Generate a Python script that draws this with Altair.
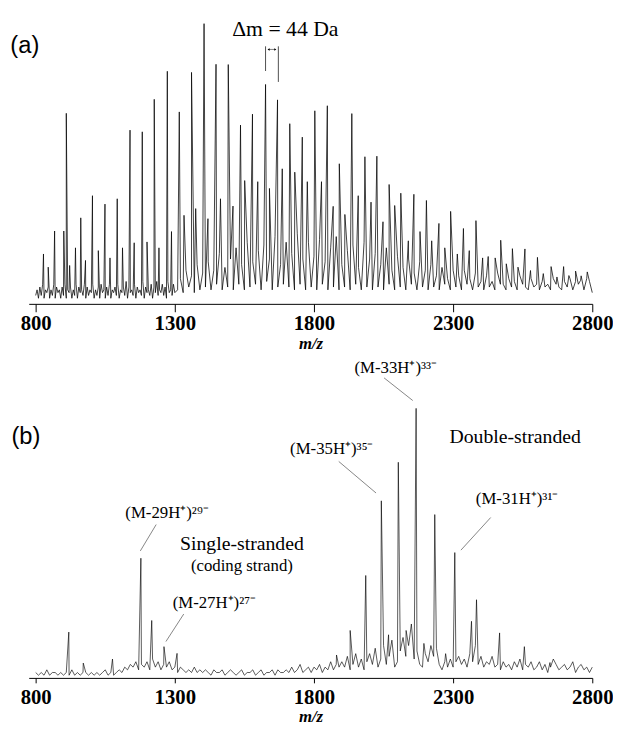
import altair as alt
import pandas as pd

# ---------------- Panel (a) ----------------
a_main_mz = [828, 868, 910, 943, 962, 1004, 1049, 1093, 1139, 1183, 1226, 1273, 1316, 1360, 1405,
             1448, 1492, 1536, 1579, 1626, 1669, 1713, 1758, 1803, 1848, 1891, 1936, 1983, 2026, 2070,
             2112, 2159, 2204, 2249, 2291, 2337, 2382, 2426, 2471, 2513, 2558, 2603, 2652, 2697, 2740, 2782]
a_main_h = [17.8, 26, 68, 20, 30.7, 38.6, 35.6, 37.5, 62, 61.4, 73, 83, 68.5, 82.6, 100,
            85.5, 85.4, 63.8, 67.7, 78.3, 72.8, 64.3, 59.5, 68.9, 70.7, 50, 67.9, 52.5, 52.7, 42.6,
            39.5, 39.1, 36.9, 28.7, 33, 26.9, 29.7, 16.9, 22.7, 19.7, 19.6, 16.6, 13.3, 13.3, 11.7, 11.4]

a_sec_mz = [845, 901, 922, 979, 1025, 1067, 1112, 1154, 1200, 1243, 1288, 1333, 1375, 1419, 1464,
            1509, 1551, 1598, 1640, 1686, 1731, 1776, 1827, 1869, 1911, 1959, 2005, 2048, 2090, 2139,
            2181, 2223, 2270, 2315, 2358, 2406, 2451, 2491, 2533, 2578, 2624, 2673, 2716, 2758]
a_sec_h = [13.1, 26, 13.7, 15.5, 19, 16.4, 20, 21.8, 22.1, 20, 25.8, 31.6, 34, 30.4, 37.5,
           34.9, 44, 43.6, 41.2, 48.2, 47, 43.6, 43.6, 34.8, 31.9, 38.6, 36.3, 29.3, 35.1, 22.5,
           25.8, 22.5, 20, 17.8, 19, 16.4, 16.4, 14.3, 13.1, 11.9, 10.8, 9.6, 10.1, 8.4]

# baseline 800..1300 every 5 m/z
a_noise_lo = [3, 5, 2, 6, 3, 7, 2, 5, 4, 6,
              2, 5, 3, 7, 2, 6, 4, 5, 2, 6,
              3, 7, 2, 5, 4, 6, 2, 5, 3, 7,
              2, 6, 4, 5, 3, 7, 2, 6, 3, 5,
              4, 7, 2, 5, 3, 6, 2, 7, 4, 5,
              2, 6, 3, 7, 2, 5, 4, 6, 3, 7,
              2, 5, 4, 6, 3, 8, 2, 6, 4, 5,
              3, 7, 2, 6, 4, 5, 3, 8, 2, 6,
              4, 5, 3, 7, 2, 6, 4, 8, 3, 5,
              4, 7, 3, 6, 2, 8, 4, 5, 3, 7,
              4]
# baseline 1310..2800 every 10 m/z
a_noise_hi = [5, 9, 4, 12, 6, 10, 4, 14, 5, 11,
              6, 15, 5, 12, 7, 18, 5, 13, 6, 16,
              5, 20, 7, 14, 5, 22, 6, 15, 7, 19,
              5, 21, 8, 16, 5, 24, 6, 14, 7, 22,
              6, 18, 5, 25, 7, 16, 5, 22, 6, 17,
              5, 23, 7, 15, 5, 20, 6, 24, 5, 14,
              6, 19, 5, 21, 7, 13, 5, 22, 6, 16,
              5, 18, 6, 14, 5, 20, 7, 12, 5, 17,
              6, 13, 5, 16, 7, 11, 5, 15, 6, 12,
              5, 14, 6, 10, 5, 13, 7, 9, 5, 12,
              6, 10, 5, 12, 7, 9, 5, 11, 6, 8,
              5, 10, 6, 8, 5, 11, 7, 7, 5, 9,
              6, 8, 5, 10, 7, 6, 5, 9, 6, 7,
              5, 8, 6, 7, 5, 9, 7, 6, 5, 8,
              6, 9, 5, 8, 7, 10, 5, 9, 8, 4]

# ---------------- Panel (b) ----------------
b_peak_mz = [919, 971, 1076, 1178, 1217, 1261, 1308, 1881, 1930, 1986, 2042, 2068, 2103, 2131, 2167,
             2195, 2234, 2273, 2306, 2366, 2384, 2467, 2556, 2648]
b_peak_h = [17, 5.5, 7, 44.4, 21.3, 11.6, 9.1, 8.5, 17.6, 38, 65.7, 16, 80, 17.6, 100,
            12.8, 60.6, 9, 46.5, 21, 29, 16.7, 11.6, 5.7]
# baseline 800..2800 every 10 m/z
b_noise = [2, 1, 2, 1, 3, 1, 2, 2, 1, 2,
           1, 2, 1, 3, 1, 2, 1, 2, 2, 1,
           2, 1, 2, 1, 2, 3, 1, 2, 1, 2,
           3, 2, 4, 3, 5, 4, 6, 3, 5, 4,
           6, 3, 7, 4, 6, 3, 5, 4, 6, 3,
           4, 2, 4, 3, 2, 3, 2, 4, 2, 3,
           2, 3, 2, 1, 3, 2, 2, 3, 1, 2,
           3, 2, 1, 2, 3, 1, 2, 2, 3, 1,
           2, 3, 1, 2, 2, 3, 1, 3, 2, 2,
           3, 2, 4, 2, 3, 5, 2, 3, 4, 2,
           4, 3, 5, 2, 4, 3, 6, 3, 5, 4,
           6, 4, 8, 3, 5, 9, 4, 7, 3, 6,
           9, 5, 11, 4, 7, 12, 5, 8, 14, 4,
           6, 10, 15, 8, 12, 20, 7, 10, 5, 4,
           9, 6, 12, 8, 11, 5, 3, 6, 4, 7,
           4, 6, 8, 5, 7, 4, 9, 6, 12, 5,
           8, 4, 6, 5, 8, 4, 5, 3, 6, 4,
           5, 3, 6, 4, 7, 3, 5, 4, 6, 3,
           4, 6, 3, 5, 2, 4, 7, 5, 3, 4,
           5, 3, 4, 6, 2, 4, 5, 3, 4, 2,
           4]

b_labels = ["(M-33H⁺)³³⁻", "(M-35H⁺)³⁵⁻", "(M-31H⁺)³¹⁻", "(M-29H⁺)²⁹⁻", "(M-27H⁺)²⁷⁻"]
b_label_mz = [2094, 1864, 2530, 1272, 1442]
b_label_h = [115, 85, 66.4, 61.3, 27.7]
b_lead_x = [2052, 1889, 2435, 1233, 1332]
b_lead_x2 = [2155, 2023, 2328, 1176, 1268]
b_lead_y = [111.3, 80.3, 59.5, 56.9, 23.7]
b_lead_y2 = [102.9, 68.6, 47.4, 47.1, 13.5]

ticks = [800, 1300, 1800, 2300, 2800]
X_DOMAIN = [775, 2800]

SERIF = "Liberation Serif"
SANS = "Liberation Sans"

# ---------- build tables ----------
lo_mz = [800 + 5 * i for i in range(len(a_noise_lo))]
hi_mz = [1310 + 10 * i for i in range(len(a_noise_hi))]
df_a = pd.DataFrame({
    "mz": lo_mz + hi_mz + a_main_mz + a_sec_mz,
    "h": a_noise_lo + a_noise_hi + a_main_h + a_sec_h,
}).sort_values("mz", kind="stable")

bn_mz = [800 + 10 * i for i in range(len(b_noise))]
df_b = pd.DataFrame({
    "mz": bn_mz + b_peak_mz,
    "h": b_noise + b_peak_h,
}).sort_values("mz", kind="stable")

W = 571
HA = 293
HB = 322
YA_MAX = 103.2
YB_MAX = 117.9


def xenc(tick_size, label_pad, title_pad):
    return alt.X("mz:Q", scale=alt.Scale(domain=X_DOMAIN, nice=False, zero=False),
                 axis=alt.Axis(values=ticks, title="m/z", tickSize=tick_size, labelPadding=label_pad,
                               titlePadding=title_pad, grid=False, labelFlush=False,
                               labelOverlap=False, format="d"))


# ---------- panel a ----------
line_a = alt.Chart(df_a).mark_line(color="black", strokeWidth=0.75, interpolate="linear").encode(
    x=xenc(8, 1, 2),
    y=alt.Y("h:Q", scale=alt.Scale(domain=[0, YA_MAX], nice=False), axis=None),
)

t_delta = alt.Chart(pd.DataFrame({"mz": [1697], "h": [97.9], "t": ["Δm = 44 Da"]})).mark_text(
    font=SERIF, fontSize=22, color="black").encode(x="mz:Q", y="h:Q", text="t:N")
t_a = alt.Chart(pd.DataFrame({"mz": [761], "h": [91.9], "t": ["(a)"]})).mark_text(
    font=SANS, fontSize=24, color="black").encode(x="mz:Q", y="h:Q", text="t:N")

br = pd.DataFrame({"x": [1626, 1672], "y": [91.9, 91.9], "y2": [83.1, 79.2]})
r_br = alt.Chart(br).mark_rule(color="black", strokeWidth=0.7).encode(x="x:Q", y="y:Q", y2="y2:Q")

arr_line = alt.Chart(pd.DataFrame({"x": [1636], "x2": [1662], "y": [90.8]})).mark_rule(
    color="black", strokeWidth=0.5).encode(x="x:Q", x2="x2:Q", y="y:Q")
arr_heads = alt.Chart(pd.DataFrame({"x": [1637, 1661], "y": [90.8, 90.8],
                                    "s": ["triangle-left", "triangle-right"]})).mark_point(
    filled=True, color="black", size=6, opacity=1).encode(
    x="x:Q", y="y:Q",
    shape=alt.Shape("s:N", scale=alt.Scale(domain=["triangle-left", "triangle-right"],
                                           range=["triangle-left", "triangle-right"]), legend=None))

panel_a = alt.layer(line_a, r_br, arr_line, arr_heads, t_delta, t_a).properties(width=W, height=HA)

# ---------- panel b ----------
line_b = alt.Chart(df_b).mark_line(color="black", strokeWidth=0.65).encode(
    x=xenc(5, 4, 1),
    y=alt.Y("h:Q", scale=alt.Scale(domain=[0, YB_MAX], nice=False), axis=None),
)

lab_df = pd.DataFrame({"mz": b_label_mz, "h": b_label_h, "t": b_labels})
t_lab = alt.Chart(lab_df).mark_text(font=SERIF, fontSize=17, color="black").encode(
    x="mz:Q", y="h:Q", text="t:N")

lead_df = pd.DataFrame({"x": b_lead_x, "x2": b_lead_x2, "y": b_lead_y, "y2": b_lead_y2})
r_lead = alt.Chart(lead_df).mark_rule(color="#333333", strokeWidth=0.6).encode(
    x="x:Q", x2="x2:Q", y="y:Q", y2="y2:Q")

big_df = pd.DataFrame({"mz": [2523, 1541], "h": [89.4, 49.6], "t": ["Double-stranded", "Single-stranded"]})
t_big = alt.Chart(big_df).mark_text(font=SERIF, fontSize=20, color="black").encode(
    x="mz:Q", y="h:Q", text="t:N")
cod_df = pd.DataFrame({"mz": [1541], "h": [41.6], "t": ["(coding strand)"]})
t_cod = alt.Chart(cod_df).mark_text(font=SERIF, fontSize=17, color="black").encode(
    x="mz:Q", y="h:Q", text="t:N")
b_df = pd.DataFrame({"mz": [765], "h": [89.4], "t": ["(b)"]})
t_b = alt.Chart(b_df).mark_text(font=SANS, fontSize=24, color="black").encode(
    x="mz:Q", y="h:Q", text="t:N")

panel_b = alt.layer(line_b, r_lead, t_lab, t_big, t_cod, t_b).properties(width=W, height=HB)

chart = alt.vconcat(panel_a, panel_b, spacing=7).properties(
    padding={"left": 2, "top": 2, "right": 0, "bottom": 0}
).configure_view(stroke=None).configure_axis(
    domainColor="black", tickColor="black", domainWidth=1, tickWidth=1,
    labelFont=SERIF, labelFontWeight="bold", labelFontSize=21, labelColor="black",
    titleFont=SERIF, titleFontStyle="italic", titleFontWeight="bold", titleFontSize=17,
    titleColor="black",
)

chart.save("out.html", embed_options={"renderer": "svg", "actions": False})
